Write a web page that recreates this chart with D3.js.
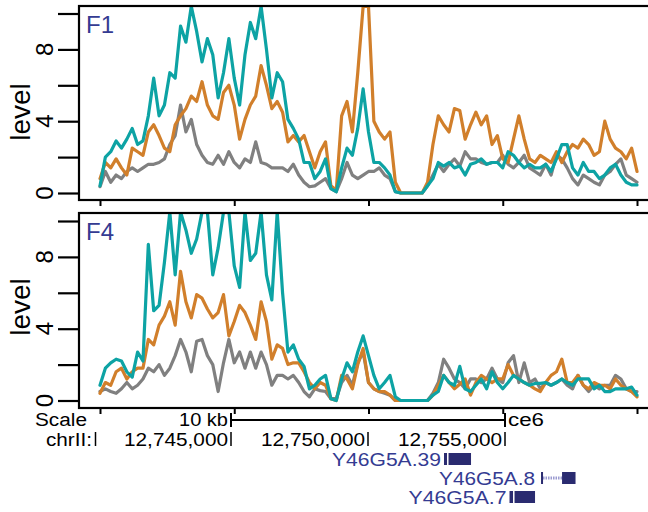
<!DOCTYPE html>
<html><head><meta charset="utf-8">
<script src="https://cdn.jsdelivr.net/npm/d3@7"></script>
<style>body{margin:0;background:#fff}svg{display:block}</style>
</head><body><svg id="c" width="648" height="512"></svg>
<script>
// ---- data ----
const START = 12740000, STEP = 200;
const panelNames = ["F1", "F4"];
const seriesNames = ["grey", "orange", "teal"];
const f1Grey = [0.35,1.2,0.6,1.0,0.8,1.2,1.4,1.2,1.4,1.6,1.6,1.7,1.9,2.7,3.2,4.9,3.4,4.1,2.7,2.1,1.7,1.6,2.1,1.6,2.3,1.7,1.4,1.9,1.7,2.85,1.7,1.6,1.4,1.4,
  1.4,1.2,1.6,1.0,0.6,0.35,0.4,0.6,0.8,0.25,0.07,0.8,1.7,1.0,0.8,1.0,1.2,1.2,1.4,1.0,0.8,0.07,0,0,0,0,0,0.4,1.0,1.6,1.2,1.6,1.9,
  1.5,2.3,1.9,1.9,1.7,1.6,1.7,1.7,2.1,1.6,1.4,1.7,2.1,1.4,1.2,1.0,1.6,1.0,2.1,1.9,1.4,0.8,0.45,1.0,0.8,0.6,0.45,1.0,1.2,1.6,1.9,1.0,0.8,0.6];
const f1Orange = [0.8,1.7,1.4,1.9,1.4,1.0,2.5,2.3,2.1,3.4,3.8,3.2,2.5,2.3,3.8,4.3,4.7,5.4,5.1,6.2,4.9,4.3,4.1,5.6,6.0,4.9,3.0,4.1,4.9,5.4,7.1,6.0,4.7,5.1,
  4.5,2.85,3.2,2.85,3.2,2.3,1.4,2.3,2.85,0.4,0.15,4.3,5.1,3.4,6.7,10.4,10.4,4.0,3.4,3.0,3.4,0.6,0,0,0,0,0,0.6,2.7,4.3,3.8,3.4,4.7,
  4.6,3.0,3.8,4.5,3.8,4.3,2.7,3.2,1.9,1.7,3.0,4.3,3.0,1.9,1.7,2.1,1.9,1.7,2.3,1.7,2.3,2.7,2.5,3.0,2.7,2.1,2.3,4.0,3.0,2.5,2.3,1.9,2.5,1.2];
const f1Teal = [0.4,2.0,2.3,2.9,2.5,3.0,3.6,2.7,2.9,4.3,6.4,4.3,4.9,6.7,6.4,9.3,8.4,10.4,9.0,7.3,8.6,7.7,5.3,6.7,8.6,6.4,4.9,7.7,9.5,8.6,10.4,8.0,5.3,6.7,
  6.2,4.1,3.6,3.0,1.7,1.7,0.8,1.2,1.9,0.25,0.07,1.4,2.5,2.1,3.6,5.8,3.4,1.7,1.7,1.4,1.0,0.07,0,0,0,0,0,0.4,0.8,1.7,1.5,1.7,1.4,
  1.5,1.0,1.6,1.7,1.9,1.6,1.7,1.7,1.4,2.3,2.1,1.7,1.4,1.6,1.4,1.4,1.6,1.2,1.9,2.7,2.7,1.4,1.0,1.7,1.2,1.2,0.8,1.0,1.4,1.6,1.0,0.6,0.45,0.45];
const f4Grey = [0.5,0.65,0.5,0.4,0.65,1.0,0.65,0.85,1.2,1.8,1.6,2.0,1.4,1.8,2.5,3.4,2.7,1.6,3.3,3.4,2.5,2.0,0.5,2.1,3.4,2.1,2.7,1.8,2.7,1.8,2.7,2.0,0.85,1.4,
  1.4,1.2,1.4,1.0,0.5,0.2,0.65,0.55,0.5,0.1,0.1,1.0,1.4,0.85,2.1,2.7,1.0,0.65,0.5,0.4,0.3,0,0,0,0,0,0,0,0.4,1.0,2.3,1.8,1.2,1.0,
  0.65,1.2,1.2,1.0,1.2,1.8,1.2,1.0,2.1,2.5,1.0,2.1,1.0,1.2,0.65,1.0,0.85,1.0,1.2,0.85,0.65,1.4,0.85,0.5,0.85,0.65,0.85,0.85,1.4,1.2,0.65,0.5,0.5];
const f4Orange = [0.4,1.0,0.85,1.6,1.8,1.2,1.6,1.8,1.8,3.4,3.1,4.2,4.7,5.5,4.2,7.2,5.5,4.6,5.9,5.7,5.1,4.6,4.9,5.9,3.6,4.4,5.3,4.9,4.2,3.4,5.5,4.4,2.3,3.1,
  2.9,2.0,2.1,2.1,1.6,1.0,0.65,1.0,0.85,0.1,0,1.4,1.2,0.65,2.0,2.9,1.0,0.65,0.5,0.5,0.3,0,0,0,0,0,0,0,0.3,0.85,1.4,1.0,0.65,0.9,
  1.2,0.3,1.0,1.4,1.2,1.0,1.2,1.2,2.0,1.4,1.2,1.0,0.85,0.65,0.5,1.0,1.4,1.6,2.3,1.0,1.0,1.4,0.85,0.65,1.0,0.85,0.85,0.65,1.2,0.85,0.65,0.5,0.2];
const f4Teal = [0.85,1.8,2.1,2.3,2.2,1.6,1.3,2.7,2.2,8.7,5.0,5.3,7.7,10.5,7.0,10.5,9.5,8.2,9.0,10.5,10.5,7.0,8.5,10.5,10.5,7.5,6.3,10.5,7.8,8.2,10.5,7.0,5.6,10.5,
  6.0,2.7,3.1,2.3,1.9,0.65,0.85,1.2,1.4,0.1,0,1.2,2.1,1.6,2.7,3.6,2.5,1.4,0.65,1.0,1.4,0.2,0,0,0,0,0,0,0.3,0.5,1.4,1.0,0.85,1.9,
  0.65,0.5,0.85,1.2,0.65,1.6,1.0,0.65,1.0,1.4,1.2,1.0,0.85,0.95,0.95,1.0,0.85,1.0,1.2,1.0,0.85,1.2,1.2,1.2,0.65,0.85,0.5,0.5,0.65,0.65,0.65,0.75,0.3];
const yTicks = [0, 2, 4, 6, 8, 10];
const yTickLabels = [0, 4, 8];
const xTicks = [12740000, 12745000, 12750000, 12755000, 12760000];
const coordLabels = [12745000, 12750000, 12755000];
const geneNames = ["Y46G5A.39", "Y46G5A.8", "Y46G5A.7"];
const geneExons = [
  [[12752774, 12752884], [12752939, 12753760]],
  [[12756315, 12756388], [12757082, 12757574]],
  [[12755165, 12755293], [12755348, 12756096]]
];
const scaleBarKb = 10;

// ---- styling / layout ----
const colors = { grey: "#808080", orange: "#d17f2b", teal: "#0da3a4" };
const labelBlue = "#343b92", geneBlue = "#2a2b70";
const FONT = "'Liberation Sans', Arial, Helvetica, sans-serif";
const panels = [
  { name: panelNames[0], top: 6, bottom: 200, y0: 193, y10: 13.5, labelY: 112, series: { grey: f1Grey, orange: f1Orange, teal: f1Teal } },
  { name: panelNames[1], top: 213, bottom: 408, y0: 400.5, y10: 221, labelY: 307, series: { grey: f4Grey, orange: f4Orange, teal: f4Teal } }
];
const frameLeft = 79, frameRight = 660;

const svg = d3.select("#c");
const x = d3.scaleLinear().domain([START, START + STEP * 100]).range([100, 637]);
const defs = svg.append("defs");

panels.forEach((p, pi) => {
  const y = d3.scaleLinear().domain([0, 10]).range([p.y0, p.y10]);
  const g = svg.append("g");
  defs.append("clipPath").attr("id", "clip" + pi).append("rect")
    .attr("x", frameLeft + 1).attr("y", p.top + 1)
    .attr("width", frameRight - frameLeft).attr("height", p.bottom - p.top - 2);

  const line = d3.line().x((d, i) => x(START + i * STEP)).y(d => y(d));
  const lg = g.append("g").attr("clip-path", "url(#clip" + pi + ")");
  seriesNames.forEach(s => {
    lg.append("path").datum(p.series[s]).attr("d", line)
      .attr("fill", "none").attr("stroke", colors[s]).attr("stroke-width", 3.2)
      .attr("stroke-linejoin", "round").attr("stroke-linecap", "round");
  });

  // frame
  g.append("rect").attr("x", frameLeft).attr("y", p.top)
    .attr("width", frameRight - frameLeft).attr("height", p.bottom - p.top)
    .attr("fill", "none").attr("stroke", "#000").attr("stroke-width", 2.2);

  // y axis
  const yAxis = d3.axisLeft(y).tickValues(yTicks).tickSize(21).tickFormat("");
  const ya = g.append("g").attr("transform", `translate(${frameLeft},0)`).call(yAxis);
  ya.select(".domain").remove();
  ya.selectAll(".tick line").attr("stroke", "#000").attr("stroke-width", 2.2);
  yTickLabels.forEach(v => {
    g.append("text").attr("transform", `translate(53,${y(v)}) rotate(-90)`)
      .attr("text-anchor", "middle").attr("font-family", FONT).attr("font-size", 24)
      .attr("fill", "#000").text(v);
  });
  g.append("text").attr("transform", `translate(30,${p.labelY}) rotate(-90)`)
    .attr("text-anchor", "middle").attr("font-family", FONT).attr("font-size", 28)
    .attr("fill", "#000").text("level");

  // x ticks below frame
  const xAxis = d3.axisBottom(x).tickValues(xTicks).tickSize(6).tickFormat("");
  const xa = g.append("g").attr("transform", `translate(0,${p.bottom})`).call(xAxis);
  xa.select(".domain").remove();
  xa.selectAll(".tick line").attr("stroke", "#000").attr("stroke-width", 2);

  g.append("text").attr("x", 86).attr("y", p.top + 27).attr("font-family", FONT)
    .attr("font-size", 24).attr("fill", labelBlue).text(p.name);
});

// ---- browser-style annotation ----
const bx = d3.scaleLinear().domain([12745000, 12755000]).range([231, 505]);
const ann = svg.append("g").attr("font-family", FONT).attr("font-size", 18).attr("fill", "#000");
function txt(xp, yp, s, anchor, len, fill) {
  const t = ann.append("text").attr("x", xp).attr("y", yp).attr("text-anchor", anchor || "start").text(s);
  if (len) t.attr("textLength", len).attr("lengthAdjust", "spacingAndGlyphs");
  if (fill) t.attr("fill", fill);
  return t;
}
const scaleRowY = 426, coordRowY = 446;
txt(35, scaleRowY, "Scale", "start", 52);
const sbEnd = 12755000, sbStart = sbEnd - scaleBarKb * 1000;
txt(bx(sbStart) - 3, scaleRowY, scaleBarKb + " kb", "end", 49);
ann.append("line").attr("x1", bx(sbStart)).attr("x2", bx(sbEnd)).attr("y1", 420).attr("y2", 420).attr("stroke", "#000").attr("stroke-width", 2);
[sbStart, sbEnd].forEach(v => ann.append("line").attr("x1", bx(v)).attr("x2", bx(v)).attr("y1", 413).attr("y2", 427).attr("stroke", "#000").attr("stroke-width", 2));
txt(bx(sbEnd) + 3, scaleRowY, "ce6", "start", 36);

txt(92, coordRowY, "chrII:", "end", 46);
ann.append("line").attr("x1", 95.5).attr("x2", 95.5).attr("y1", 432).attr("y2", 446).attr("stroke", "#000").attr("stroke-width", 1.5);
const fmt = d3.format(",");
coordLabels.forEach(v => {
  txt(bx(v) - 3, coordRowY, fmt(v), "end", 104);
  ann.append("line").attr("x1", bx(v)).attr("x2", bx(v)).attr("y1", 432).attr("y2", 446).attr("stroke", "#000").attr("stroke-width", 1.5);
});

const geneBaselines = [466, 485, 504];
const geneLabelLen = [109, 96, 98];
geneNames.forEach((name, gi) => {
  const ex = geneExons[gi];
  const base = geneBaselines[gi];
  const gs = ex[0][0];
  for (let k = 0; k < ex.length - 1; k++) {
    const a = bx(ex[k][1]), b = bx(ex[k + 1][0]);
    if (b - a > 3) {
      ann.append("line").attr("x1", a).attr("x2", b).attr("y1", base - 7).attr("y2", base - 7)
        .attr("stroke", "#9a9ad0").attr("stroke-width", 3).attr("stroke-dasharray", "1.5,1");
    }
  }
  ex.forEach(e => {
    ann.append("rect").attr("x", bx(e[0])).attr("y", base - 13)
      .attr("width", Math.max(1.5, bx(e[1]) - bx(e[0]))).attr("height", 12).attr("fill", geneBlue);
  });
  txt(bx(gs) - (name === "Y46G5A.8" ? 6 : 3), base, name, "end", geneLabelLen[gi], labelBlue);
});
</script></body></html>
